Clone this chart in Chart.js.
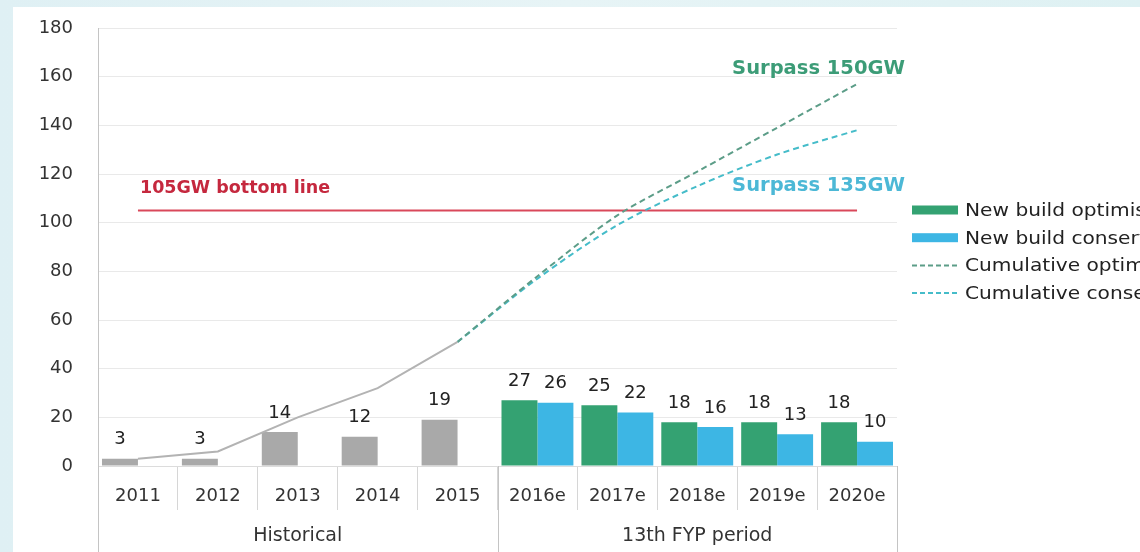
<!DOCTYPE html>
<html>
<head>
<meta charset="utf-8">
<script src="https://cdn.jsdelivr.net/npm/chart.js@4.4.0/dist/chart.umd.min.js"></script>
<style>
  html, body { margin: 0; padding: 0; }
  body {
    width: 1140px; height: 552px; overflow: hidden; position: relative;
    background: linear-gradient(90deg, #dff0f4, #e7f4f6 50%, #def1f3);
  }
  #box { position: absolute; left: 13px; top: 7px; width: 1127px; height: 545px; background: #fff; }
</style>
</head>
<body>
<div id="box"><canvas id="chart"></canvas></div>
<script>
const years = ['2011', '2012', '2013', '2014', '2015', '2016e', '2017e', '2018e', '2019e', '2020e'];
const historical = [3, 3, 14, 12, 19];
const newOptimistic = [27, 25, 18, 18, 18];
const newConservative = [26, 22, 16, 13, 10];
const cumHistorical = [3, 6, 20, 32, 51];
const cumOptimistic = [51, 78, 103, 121, 139, 157];
const cumConservative = [51, 77, 99, 115, 128, 138];
const bottomLine = 105;
const yTicks = [0, 20, 40, 60, 80, 100, 120, 140, 160, 180];

const FONT = '"DejaVu Sans", "Liberation Sans", Arial, sans-serif';
const GRAY = '#a9a9a9';
const GREEN = '#34a272';
const BLUE = '#3db6e4';
const OPT_LINE = '#5c9d88';
const CONS_LINE = '#45bcc9';

const nulls = n => Array(n).fill(null);

// grey historical bars and green optimistic bars share the first slot
const firstSlot = historical.concat(newOptimistic);
const firstColors = firstSlot.map((v, i) => i < historical.length ? GRAY : GREEN);

const extras = {
    id: 'extras',
    afterDatasetsDraw(chart) {
        const ctx = chart.ctx;
        ctx.save();
        ctx.font = '18px ' + FONT;
        ctx.fillStyle = '#222';
        ctx.textAlign = 'center';
        ctx.textBaseline = 'bottom';
        chart.data.datasets.forEach((ds, i) => {
            if (ds.type === 'line') return;
            chart.getDatasetMeta(i).data.forEach((el, j) => {
                const v = ds.data[j];
                if (v == null) return;
                ctx.fillText(String(v), el.x, el.y - 10);
            });
        });
        ctx.restore();
    },
    afterDraw(chart) {
        const ctx = chart.ctx;
        const { left, right, top, bottom } = chart.chartArea;
        const x = chart.scales.x, y = chart.scales.y;
        const H = chart.height;
        ctx.save();

        // long separators of the two label rows
        ctx.strokeStyle = '#c4c4c4';
        ctx.lineWidth = 1;
        const sep = (x.getPixelForValue(4) + x.getPixelForValue(5)) / 2;
        [[left, top], [sep, bottom], [right, bottom]].forEach(p => {
            ctx.beginPath();
            ctx.moveTo(Math.round(p[0]) + 0.5, p[1]);
            ctx.lineTo(Math.round(p[0]) + 0.5, H);
            ctx.stroke();
        });

        // group labels
        ctx.font = '19px ' + FONT;
        ctx.fillStyle = '#333';
        ctx.textAlign = 'center';
        ctx.textBaseline = 'middle';
        ctx.fillText('Historical', (left + sep) / 2, bottom + 70);
        ctx.fillText('13th FYP period', (sep + right) / 2, bottom + 70);

        // annotations
        ctx.font = 'bold 17.5px ' + FONT;
        ctx.textAlign = 'left';
        ctx.fillStyle = '#c5283e';
        ctx.fillText('105GW bottom line', x.getPixelForValue(0) + 2, y.getPixelForValue(114));
        ctx.font = 'bold 19.5px ' + FONT;
        ctx.textAlign = 'right';
        ctx.fillStyle = '#3c9c77';
        ctx.fillText('Surpass 150GW', right + 8, y.getPixelForValue(163));
        ctx.fillStyle = '#4cb8d6';
        ctx.fillText('Surpass 135GW', right + 8, y.getPixelForValue(115));

        // legend (text is a bit wider in the source, so stretch it)
        const items = [
            { text: 'New build optimistic', color: GREEN, dash: false },
            { text: 'New build conservative', color: BLUE, dash: false },
            { text: 'Cumulative optimistic', color: OPT_LINE, dash: true },
            { text: 'Cumulative conservative', color: CONS_LINE, dash: true }
        ];
        const lx = right + 15;
        let ly = 203;
        ctx.font = '18.5px ' + FONT;
        ctx.textAlign = 'left';
        items.forEach(it => {
            if (it.dash) {
                ctx.strokeStyle = it.color;
                ctx.lineWidth = 2;
                ctx.setLineDash([5, 3]);
                ctx.beginPath();
                ctx.moveTo(lx, ly);
                ctx.lineTo(lx + 46, ly);
                ctx.stroke();
                ctx.setLineDash([]);
            } else {
                ctx.fillStyle = it.color;
                ctx.fillRect(lx, ly - 4.5, 46, 9);
            }
            ctx.save();
            ctx.translate(lx + 53, ly + 1);
            ctx.scale(1.09, 1);
            ctx.fillStyle = '#222';
            ctx.fillText(it.text, 0, 0);
            ctx.restore();
            ly += 27.7;
        });
        ctx.restore();
    }
};

new Chart('chart', {
    type: 'bar',
    data: {
        labels: years,
        datasets: [{
            label: 'New build optimistic',
            data: firstSlot,
            backgroundColor: firstColors,
            categoryPercentage: 0.9,
            barPercentage: 1.0,
            order: 3
        }, {
            label: 'New build conservative',
            data: nulls(historical.length).concat(newConservative),
            backgroundColor: BLUE,
            categoryPercentage: 0.9,
            barPercentage: 1.0,
            order: 3
        }, {
            type: 'line',
            label: 'Cumulative',
            data: cumHistorical.concat(nulls(years.length - cumHistorical.length)),
            borderColor: '#b3b3b3',
            borderWidth: 2,
            pointRadius: 0,
            tension: 0,
            order: 1
        }, {
            type: 'line',
            label: '105GW bottom line',
            data: years.map(() => bottomLine),
            borderColor: '#d9485a',
            borderWidth: 2,
            pointRadius: 0,
            order: 2
        }, {
            type: 'line',
            label: 'Cumulative optimistic',
            data: nulls(4).concat(cumOptimistic),
            borderColor: OPT_LINE,
            borderWidth: 2,
            borderDash: [6, 4],
            pointRadius: 0,
            tension: 0.3,
            order: 1
        }, {
            type: 'line',
            label: 'Cumulative conservative',
            data: nulls(4).concat(cumConservative),
            borderColor: CONS_LINE,
            borderWidth: 2,
            borderDash: [6, 4],
            pointRadius: 0,
            tension: 0.3,
            order: 1
        }]
    },
    options: {
        responsive: true,
        maintainAspectRatio: false,
        animation: false,
        layout: {
            padding: { top: 21, right: 243, bottom: 0, left: 0 }
        },
        scales: {
            x: {
                grid: {
                    offset: true,
                    drawOnChartArea: false,
                    tickLength: 44,
                    color: '#d6d6d6'
                },
                border: { color: '#dcdcdc' },
                ticks: {
                    padding: -24,
                    color: '#333',
                    font: { family: FONT, size: 18 }
                },
                afterFit(scale) { scale.height = 86; }
            },
            y: {
                min: 0,
                max: 180,
                afterBuildTicks(scale) { scale.ticks = yTicks.map(v => ({ value: v })); },
                grid: { color: '#e9e9e9', tickLength: 25, tickColor: 'rgba(0,0,0,0)' },
                border: { color: '#c4c4c4' },
                ticks: {
                    padding: 0,
                    color: '#333',
                    font: { family: FONT, size: 18 }
                },
                afterFit(scale) { scale.width = 85; }
            }
        },
        plugins: {
            legend: { display: false },
            tooltip: { enabled: false }
        }
    },
    plugins: [extras]
});
</script>
</body>
</html>
